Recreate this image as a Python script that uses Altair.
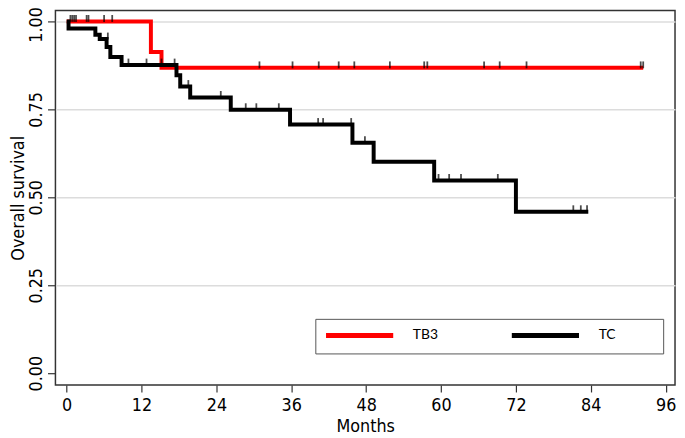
import altair as alt
import pandas as pd

# ---- data (months, survival probability) ----
tb3_time = [0, 13.5, 15.2, 92.4]
tb3_surv = [1.0, 0.913, 0.868, 0.868]

tc_time = [0, 0.3, 4.6, 5.3, 6.4, 7.0, 8.8, 17.6, 18.2, 19.8, 26.3, 35.8, 45.8, 49.2, 58.9, 72.0, 83.6]
tc_surv = [1.0, 0.980, 0.962, 0.950, 0.927, 0.899, 0.876, 0.847, 0.815, 0.784, 0.749, 0.707, 0.655, 0.601, 0.548, 0.459, 0.459]

tb3_cens_time = [0.6, 0.9, 1.2, 1.5, 3.2, 3.5, 6.0, 7.3, 30.9, 36.2, 40.4, 43.6, 46.1, 51.8, 57.3, 57.8, 66.9, 69.4, 73.7, 92.0, 92.4]
tb3_cens_surv = [1.0, 1.0, 1.0, 1.0, 1.0, 1.0, 1.0, 1.0, 0.868, 0.868, 0.868, 0.868, 0.868, 0.868, 0.868, 0.868, 0.868, 0.868, 0.868, 0.868, 0.868]

tc_cens_time = [6.6, 9.9, 12.8, 15.2, 17.3, 19.5, 24.7, 28.7, 30.4, 34.0, 40.3, 41.1, 45.6, 47.8, 59.6, 61.3, 63.2, 69.1, 81.2, 82.4, 83.4]
tc_cens_surv = [0.950, 0.876, 0.876, 0.876, 0.876, 0.815, 0.784, 0.749, 0.749, 0.749, 0.707, 0.707, 0.707, 0.655, 0.548, 0.548, 0.548, 0.548, 0.459, 0.459, 0.459]

groups = ["TB3", "TC"]
colors = ["#ff0000", "#000000"]
x_ticks = list(range(0, 97, 6))
y_ticks = [0, 0.25, 0.5, 0.75, 1.0]

curves = pd.concat([
    pd.DataFrame({"t": tb3_time, "s": tb3_surv, "group": "TB3"}),
    pd.DataFrame({"t": tc_time, "s": tc_surv, "group": "TC"}),
])
cens = pd.concat([
    pd.DataFrame({"t": tb3_cens_time, "s": tb3_cens_surv, "group": "TB3"}),
    pd.DataFrame({"t": tc_cens_time, "s": tc_cens_surv, "group": "TC"}),
])

AXFONT = "Liberation Sans Narrow, Noto Sans Condensed, DejaVu Sans Condensed, Liberation Sans, Arial"

xscale = alt.Scale(domain=[-1.8, 97.5], nice=False, zero=False)
yscale = alt.Scale(domain=[-0.0337, 1.0309], nice=False, zero=False)

xaxis = alt.Axis(
    values=x_ticks, labelExpr="datum.value % 12 == 0 ? datum.label : ''",
    tickSize={"condition": {"test": "datum.value % 12 == 0", "value": 7}, "value": 4},
    grid=False, domain=False, title="Months", labelFont=AXFONT, titleFont=AXFONT,
    labelFontSize=18, titleFontSize=18, titleFontWeight="normal", labelColor="black",
    titleColor="black", tickColor="#333", tickWidth=1.2, labelPadding=5, titlePadding=3,
)
yaxis = alt.Axis(
    values=y_ticks, format=".2f", labelAngle=270, labelAlign="center", labelBaseline="alphabetic",
    labelOffset={"condition": {"test": "datum.value == 1", "value": 3}, "value": 0},
    tickSize=8, tickColor="#333", tickWidth=1.2, domain=False,
    grid=True, gridColor="#dcdcdc", gridWidth=1.5,
    gridOpacity={"condition": {"test": "datum.value > 0", "value": 1}, "value": 0},
    title="Overall survival", labelFont=AXFONT, titleFont=AXFONT, labelFontSize=18,
    titleFontSize=18, titleFontWeight="normal", labelColor="black", titleColor="black",
    titleBaseline="alphabetic", labelPadding=6, titlePadding=4,
)

PAD = "\u2800" * 4
color = alt.Color(
    "group:N",
    scale=alt.Scale(domain=groups, range=colors),
    legend=alt.Legend(
        title=None, orient="none", legendX=263, legendY=312, direction="horizontal",
        symbolType="M-1,0L11,0", symbolSize=128.4, symbolStrokeWidth=5,
        labelOffset=73.7, columnPadding=63, padding=8,
        labelExpr="datum.label == 'TC' ? 'TC" + PAD + "' : datum.label",
        labelLimit=300,
        strokeColor="#555555", fillColor="white", cornerRadius=0,
        labelFont="Lato", labelFontSize=14, labelColor="black",
    ),
)

lines = alt.Chart(curves).mark_line(interpolate="step-after", strokeWidth=4).encode(
    x=alt.X("t:Q", scale=xscale, axis=xaxis),
    y=alt.Y("s:Q", scale=yscale, axis=yaxis),
    color=color,
    order=alt.Order("t:Q"),
)

ticks = alt.Chart(cens).mark_tick(orient="vertical", size=7, thickness=1.8, yOffset=-3, color="black").encode(
    x=alt.X("t:Q", scale=xscale),
    y=alt.Y("s:Q", scale=yscale),
)

chart = alt.layer(lines, ticks).properties(
    width=627, height=379,
    autosize=alt.AutoSizeParams(type="none"),
    padding={"left": 48, "top": 0, "right": 2, "bottom": 51},
).configure_view(stroke="#333333", strokeWidth=1.5)

chart.save("out.html", embed_options={"renderer": "svg", "actions": False})
